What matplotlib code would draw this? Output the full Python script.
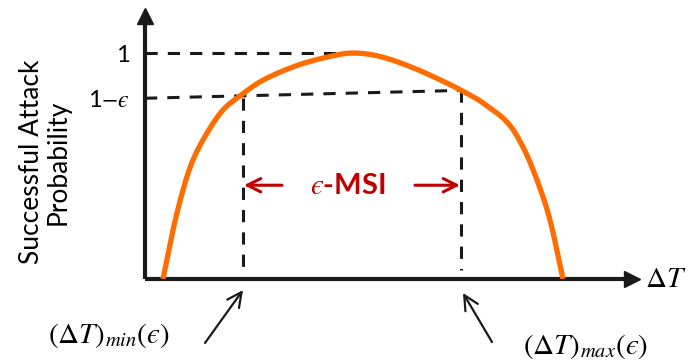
import numpy as np
import matplotlib
matplotlib.use("Agg")
import matplotlib.pyplot as plt

plt.rcParams["font.family"] = ["Lato", "DejaVu Sans"]
plt.rcParams["mathtext.fontset"] = "stix"

# success probability vs. timing offset
dt = [0.18, 0.28, 0.38, 0.48, 0.62, 0.78, 0.95, 1.18, 1.52, 1.85, 2.08,
      2.35, 2.68, 3.02, 3.25, 3.38, 3.62, 3.78, 3.92, 4.05, 4.18]
p = [0.0, 0.217, 0.394, 0.527, 0.646, 0.748, 0.81, 0.88, 0.945, 0.985, 1.0,
     0.985, 0.935, 0.867, 0.814, 0.779, 0.695, 0.584, 0.438, 0.261, 0.0]
eps = 0.2
dt_min = 0.98
dt_max = 3.16
dt_peak = 2.1

ORANGE = "#ff6d00"
RED = "#c00000"
INK = "#1a1a1a"
EPS = "\u03f5"  # lunate epsilon


def catmull_rom(xs, ys, n=24):
    # smooth polyline through the given points
    pts = np.column_stack([xs, ys])
    pts = np.vstack([2 * pts[0] - pts[1], pts, 2 * pts[-1] - pts[-2]])
    t = np.linspace(0, 1, n, endpoint=False)[:, None]
    out = []
    for i in range(1, len(pts) - 2):
        p0, p1, p2, p3 = pts[i - 1], pts[i], pts[i + 1], pts[i + 2]
        seg = 0.5 * ((2 * p1) + (-p0 + p2) * t + (2 * p0 - 5 * p1 + 4 * p2 - p3) * t ** 2
                     + (-p0 + 3 * p1 - 3 * p2 + p3) * t ** 3)
        out.append(seg)
    out.append(pts[-2][None, :])
    out = np.vstack(out)
    return out[:, 0], out[:, 1]


fig = plt.figure(figsize=(6.89, 3.62), dpi=100)
ax = fig.add_axes([145 / 689, 1 - 279 / 362, (632 - 145) / 689, (279 - 16) / 362])
ax.set_xlim(0, 4.87)
ax.set_ylim(0, 1.164)

for side in ["top", "right"]:
    ax.spines[side].set_visible(False)
for side in ["left", "bottom"]:
    ax.spines[side].set_linewidth(3)
    ax.spines[side].set_color(INK)
    ax.spines[side].set_capstyle("butt")
ax.plot(1, 0, ">", color=INK, ms=11, transform=ax.transAxes, clip_on=False)
ax.plot(0, 1, "^", color=INK, ms=11, transform=ax.transAxes, clip_on=False)

ax.set_xticks([])
ax.set_yticks([1, 1 - eps])
ax.set_yticklabels(["1", "1$-" + EPS + "$"], fontsize=17)
ax.tick_params(axis="y", length=0, pad=11)

# guide lines
dash = (0, (4, 3.3))
p_right = np.interp(dt_max, dt, p)
ax.plot([0, dt_peak], [1, 1], color=INK, lw=2.2, ls=dash)
ax.plot([0, dt_max], [1 - eps, p_right], color=INK, lw=2.2, ls=dash)
ax.plot([dt_min, dt_min], [1 - eps, 0.04], color=INK, lw=2.2, ls=dash)
ax.plot([dt_max, dt_max], [p_right, 0.04], color=INK, lw=2.2, ls=dash)

cx, cy = catmull_rom(dt, p)
ax.plot(cx, cy, color=ORANGE, lw=3.8, solid_capstyle="butt", zorder=3)

# window marker
mid = (dt_min + dt_max) / 2
ax.text(mid - 0.04, 0.41, "$" + EPS + "$-MSI", color=RED, fontsize=21, fontweight="bold",
        ha="center", va="center")
arrow_kw = dict(arrowstyle="->", color=RED, lw=2.2, mutation_scale=24, shrinkA=0, shrinkB=0)
ax.annotate("", xy=(dt_min + 0.01, 0.415), xytext=(1.37, 0.415), arrowprops=arrow_kw)
ax.annotate("", xy=(dt_max - 0.01, 0.415), xytext=(2.70, 0.415), arrowprops=arrow_kw)

# axis labels
ax.text(5.21, 0.0, r"$\Delta T$", fontsize=21, ha="center", va="center", clip_on=False)
fig.text(45 / 689, 1 - 162 / 362, "Successful Attack\nProbability", rotation=90,
         fontsize=19, ha="center", va="center", multialignment="center", linespacing=1.1)

# endpoint labels
thin = dict(arrowstyle="->", color=INK, lw=1.6, mutation_scale=26, shrinkA=0, shrinkB=0)
ax.annotate("", xy=(dt_min, -0.049), xytext=(0.60, -0.283), arrowprops=thin,
            annotation_clip=False)
ax.annotate("", xy=(dt_max + 0.02, -0.062), xytext=(3.47, -0.279), arrowprops=thin,
            annotation_clip=False)
ax.text(-0.36, -0.252, r"$(\Delta T)_{min}(" + EPS + ")$", fontsize=21, ha="center",
        va="center", clip_on=False)
ax.text(4.41, -0.30, r"$(\Delta T)_{max}(" + EPS + ")$", fontsize=21, ha="center",
        va="center", clip_on=False)

fig.savefig("out.png", dpi=100)
